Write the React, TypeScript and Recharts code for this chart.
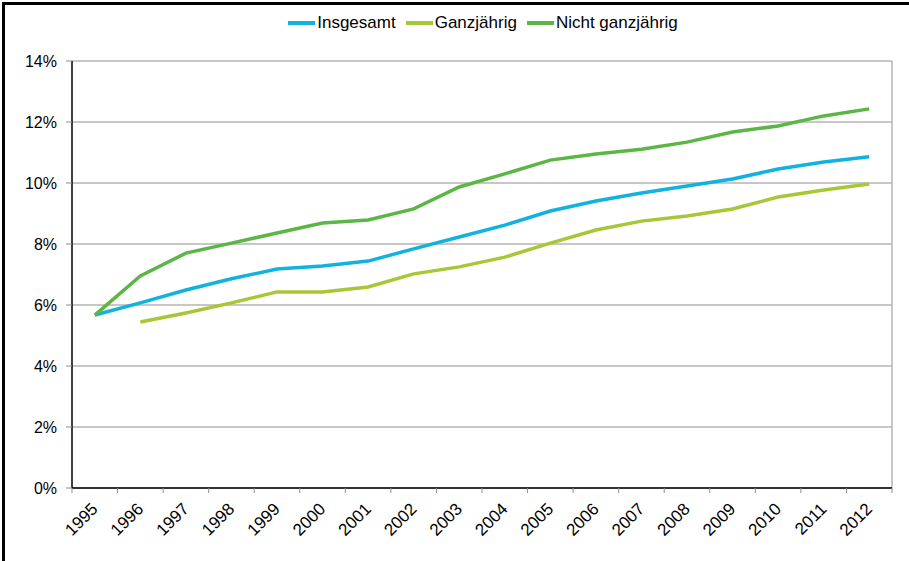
import React from 'react';
import { LineChart, Line, XAxis, YAxis, CartesianGrid, Legend } from 'recharts';

const years = [
  '1995', '1996', '1997', '1998', '1999', '2000', '2001', '2002', '2003',
  '2004', '2005', '2006', '2007', '2008', '2009', '2010', '2011', '2012',
];

const insgesamt = [
  5.67, 6.07, 6.49, 6.86, 7.18, 7.28, 7.44, 7.84, 8.23,
  8.62, 9.08, 9.41, 9.67, 9.9, 10.13, 10.46, 10.69, 10.86,
];

const ganzjaehrig = [
  null, 5.44, 5.74, 6.07, 6.43, 6.43, 6.59, 7.02, 7.25,
  7.57, 8.03, 8.46, 8.75, 8.92, 9.15, 9.54, 9.77, 9.97,
];

const nichtGanzjaehrig = [
  5.67, 6.95, 7.7, 8.03, 8.36, 8.69, 8.79, 9.15, 9.87,
  10.3, 10.75, 10.95, 11.11, 11.34, 11.67, 11.87, 12.2, 12.43,
];

const yTicks = [0, 2, 4, 6, 8, 10, 12, 14];

const series = [
  { key: 'insgesamt', name: 'Insgesamt', color: '#12b2e0' },
  { key: 'ganz', name: 'Ganzjährig', color: '#a6c836' },
  { key: 'nicht', name: 'Nicht ganzjährig', color: '#5cb645' },
];

const data = years.map((year, i) => ({
  year,
  insgesamt: insgesamt[i],
  ganz: ganzjaehrig[i],
  nicht: nichtGanzjaehrig[i],
}));

const font = '"Liberation Sans", Arial, sans-serif';

// year labels sit at the band centre, tick marks between the bands (Excel style)
const YearTick = (props: any) => {
  const { x, y, payload, index, width } = props;
  const half = width / years.length / 2;
  const lx = x + 4;
  const ly = y + 22;
  return (
    <g>
      <line x1={x - half} y1={y} x2={x - half} y2={y + 5} stroke="#8c8c8c" />
      {index === years.length - 1 && (
        <line x1={x + half} y1={y} x2={x + half} y2={y + 5} stroke="#8c8c8c" />
      )}
      <text
        x={lx}
        y={ly}
        textAnchor="end"
        fontSize={17}
        fontFamily={font}
        fill="#000"
        transform={`rotate(-45 ${lx} ${ly})`}
      >
        {payload.value}
      </text>
    </g>
  );
};

const LegendContent = () => (
  <div
    style={{
      height: 30,
      display: 'flex',
      justifyContent: 'center',
      alignItems: 'center',
      paddingLeft: 84,
      fontFamily: font,
      fontSize: 17,
      color: '#000',
      boxSizing: 'border-box',
    }}
  >
    {series.map((s) => (
      <div key={s.key} style={{ display: 'flex', alignItems: 'center', marginRight: 10 }}>
        <span
          style={{ display: 'inline-block', width: 27, height: 4, background: s.color, marginRight: 2 }}
        />
        <span>{s.name}</span>
      </div>
    ))}
  </div>
);

const App = () => {
  return (
    <div style={{ position: 'absolute', left: 0, top: 0, width: 909, height: 561, background: '#fff' }}>
      <div
        style={{
          position: 'absolute',
          left: 2,
          top: 2,
          width: 920,
          height: 600,
          borderLeft: '3px solid #000',
          borderTop: '3px solid #000',
        }}
      />
      <div style={{ position: 'absolute', left: 0, top: 0 }}>
        <LineChart
          width={909}
          height={561}
          data={data}
          margin={{ top: 31, right: 17, left: 0, bottom: 0 }}
        >
          <CartesianGrid
            stroke="#b5b5b5"
            strokeWidth={1.5}
            verticalCoordinatesGenerator={({ offset }: any) => [offset.left + offset.width]}
          />
          <XAxis
            dataKey="year"
            scale="band"
            height={73}
            tickSize={0}
            tickMargin={0}
            tickLine={false}
            interval={0}
            axisLine={{ stroke: '#000', strokeWidth: 1.5 }}
            tick={<YearTick />}
          />
          <YAxis
            width={72}
            domain={[0, 14]}
            ticks={yTicks}
            tickFormatter={(v) => `${v}%`}
            tickSize={6}
            tickMargin={9}
            tickLine={{ stroke: '#8c8c8c' }}
            axisLine={{ stroke: '#000', strokeWidth: 1.5 }}
            tick={{ fill: '#000', fontSize: 16, fontFamily: font }}
          />
          <Legend verticalAlign="top" content={<LegendContent />} wrapperStyle={{ top: 8 }} />
          {series.map((s) => (
            <Line
              key={s.key}
              type="linear"
              dataKey={s.key}
              name={s.name}
              stroke={s.color}
              strokeWidth={3.5}
              dot={false}
              activeDot={false}
              isAnimationActive={false}
            />
          ))}
        </LineChart>
      </div>
    </div>
  );
};

export default App;
